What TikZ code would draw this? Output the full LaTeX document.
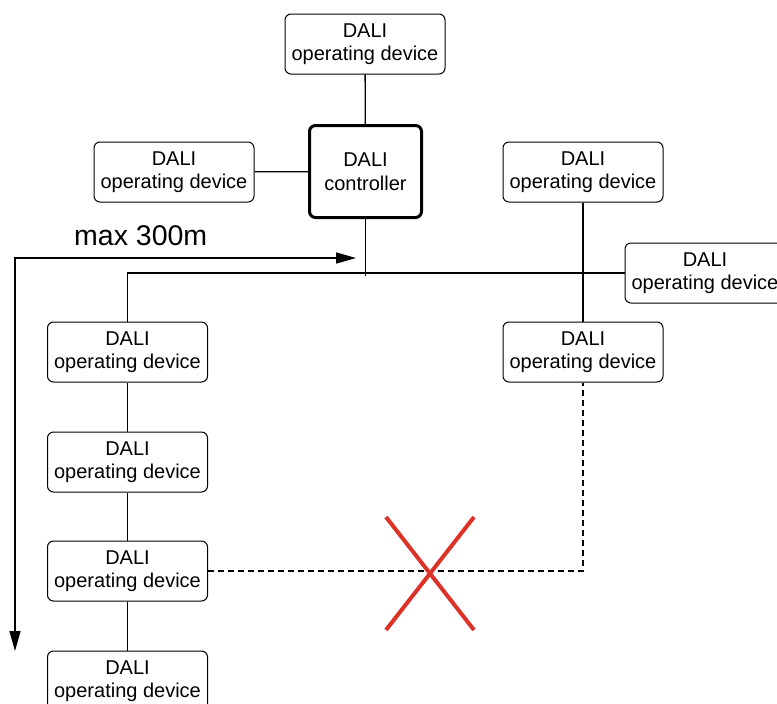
\documentclass[tikz,border=0pt]{standalone}
\usepackage{fontspec}
\setmainfont{Liberation Sans}
\usetikzlibrary{arrows.meta}
\definecolor{crossred}{RGB}{221,50,40}
\begin{document}
\begin{tikzpicture}[x=1pt,y=-1pt,
    device/.style={draw,rounded corners=6pt,line width=1pt,minimum width=160pt,
      minimum height=60pt,inner sep=0pt,align=center,
      font=\fontsize{20}{23.5}\selectfont},
    ctrl/.style={device,line width=3pt,minimum width=112pt,minimum height=92pt},
    wire/.style={line width=1.3pt},
    nolink/.style={wire,dash pattern=on 6pt off 4pt},
    span/.style={line width=1.4pt,{Triangle[length=20pt,width=11pt]}-{Triangle[length=20pt,width=11pt]}}]
  \useasboundingbox (0,0) rectangle (777,704);
  % controller and devices round it
  \node[ctrl] (ctrl) at (365.5,171.5) {DALI\\controller};
  \node[device] (top) at (365,44) {DALI\\operating device};
  \node[device] (left) at (174,172) {DALI\\operating device};
  \node[device] (rtop) at (583,172) {DALI\\operating device};
  \node[device] (far) at (705,273) {DALI\\operating device};
  \node[device] (rmid) at (583,352) {DALI\\operating device};
  % left column
  \node[device] (col1) at (127.5,352) {DALI\\operating device};
  \node[device] (col2) at (127.5,462) {DALI\\operating device};
  \node[device] (col3) at (127.5,571) {DALI\\operating device};
  \node[device] (col4) at (127.5,681) {DALI\\operating device};
  \coordinate (tap) at (ctrl.south |- far.west);
  \coordinate (corner) at (col1.north |- far.west);
  \coordinate (bend) at (rmid.south |- col3.east);
  % wiring
  \draw[wire] (top) -- (ctrl);
  \draw[wire] (left) -- (ctrl);
  \draw[wire] (ctrl) -- ([yshift=-3pt]tap);
  \draw[wire] (col1) -- (corner) -- (far);
  \draw[wire] (rtop) -- (rmid);
  \draw[wire] (col1) -- (col2);
  \draw[wire] (col2) -- (col3);
  \draw[wire] (col3) -- (col4);
  \draw[nolink] (col3) -- (bend) -- (rmid);
  % red cross over the forbidden loop
  \draw[crossred,line width=4pt] (386,517) -- (474,630);
  \draw[crossred,line width=4pt] (474,517) -- (386,630);
  % length
  \coordinate (lenstart) at (15,651);
  \coordinate (lenbend) at (15,258);
  \coordinate (lenend) at (356,258);
  \draw[span] (lenstart) -- (lenbend) -- (lenend);
  \node[font=\fontsize{28.5}{32}\selectfont,anchor=base west,inner sep=0pt] (maxlen) at (74,245) {max 300m};
\end{tikzpicture}
\end{document}
